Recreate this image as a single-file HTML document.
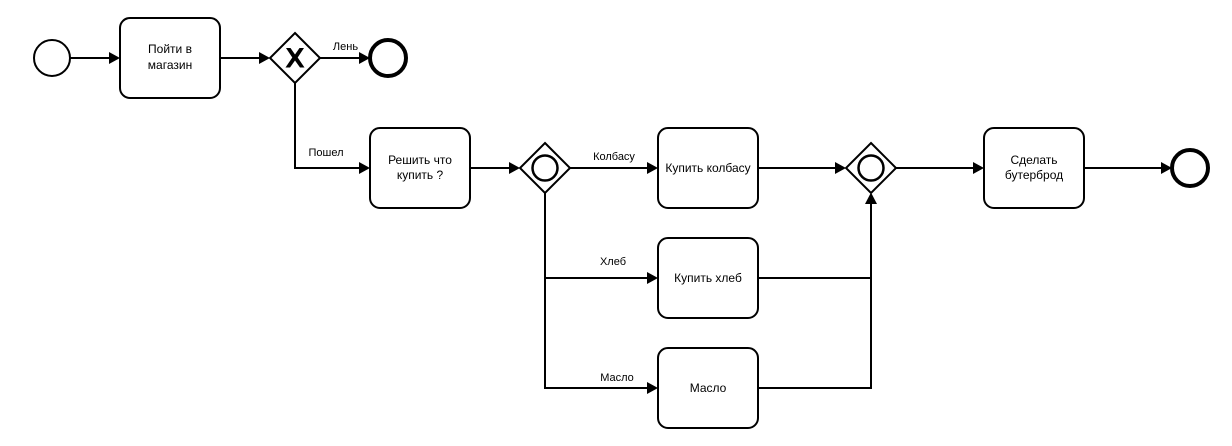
<!DOCTYPE html>
<html><head><meta charset="utf-8"><style>
html,body{margin:0;padding:0;background:#fff}
svg{display:block}
text{font-family:"Liberation Sans",Arial,sans-serif;fill:#000}
.t{font-size:12px;text-anchor:middle}
.l{font-size:11px;text-anchor:middle}
.s{fill:#fff;stroke:#000;stroke-width:2}
.c{fill:none;stroke:#000;stroke-width:2}
.a{fill:#000;stroke:none}
</style></head><body>
<svg width="1232" height="446" viewBox="0 0 1232 446" xmlns="http://www.w3.org/2000/svg">
<path class="c" d="M70 58H112M220 58H262M320 58H362M295 83V168H362M470 168H512M570 168H650M545 193V278H650M545 278V388H650M758 168H838M758 278H871V200M758 388H871V278M896 168H976M1084 168H1164"/>
<path class="a" d="M120 58l-11-6v12zM270 58l-11-6v12zM370 58l-11-6v12zM370 168l-11-6v12zM520 168l-11-6v12zM658 168l-11-6v12zM658 278l-11-6v12zM658 388l-11-6v12zM846 168l-11-6v12zM984 168l-11-6v12zM1172 168l-11-6v12zM871 192.500l-6 11.500h12z"/>
<circle class="s" cx="52" cy="58" r="18"/>
<circle class="s" cx="388" cy="58" r="18" style="stroke-width:4"/>
<circle class="s" cx="1190" cy="168" r="18" style="stroke-width:4"/>
<rect class="s" x="120" y="18" width="100" height="80" rx="10"/>
<rect class="s" x="370" y="128" width="100" height="80" rx="10"/>
<rect class="s" x="658" y="128" width="100" height="80" rx="10"/>
<rect class="s" x="658" y="238" width="100" height="80" rx="10"/>
<rect class="s" x="658" y="348" width="100" height="80" rx="10"/>
<rect class="s" x="984" y="128" width="100" height="80" rx="10"/>
<path class="s" d="M295 33L320 58L295 83L270 58Z"/>
<path class="s" d="M545 143L570 168L545 193L520 168Z"/>
<path class="s" d="M871 143L896 168L871 193L846 168Z"/>
<path class="a" d="M286 48H290.500L295 54.500L299.500 48H304L297.700 57.500L304.500 67.500H300L295 60.500L290 67.500H285.500L292.300 57.500Z"/>
<circle class="c" cx="545" cy="168" r="12.500" style="stroke-width:2.500"/>
<circle class="c" cx="871" cy="168" r="12.500" style="stroke-width:2.500"/>
<text class="t" x="170" y="53">Пойти в</text>
<text class="t" x="170" y="69">магазин</text>
<text class="t" x="420" y="164">Решить что</text>
<text class="t" x="420" y="179">купить ?</text>
<text class="t" x="708" y="172">Купить колбасу</text>
<text class="t" x="708" y="282">Купить хлеб</text>
<text class="t" x="708" y="392">Масло</text>
<text class="t" x="1034" y="164">Сделать</text>
<text class="t" x="1034" y="179">бутерброд</text>
<text class="l" x="345.500" y="50">Лень</text>
<text class="l" x="326" y="156">Пошел</text>
<text class="l" x="614" y="160">Колбасу</text>
<text class="l" x="613" y="265">Хлеб</text>
<text class="l" x="617" y="381">Масло</text>
</svg>
</body></html>
